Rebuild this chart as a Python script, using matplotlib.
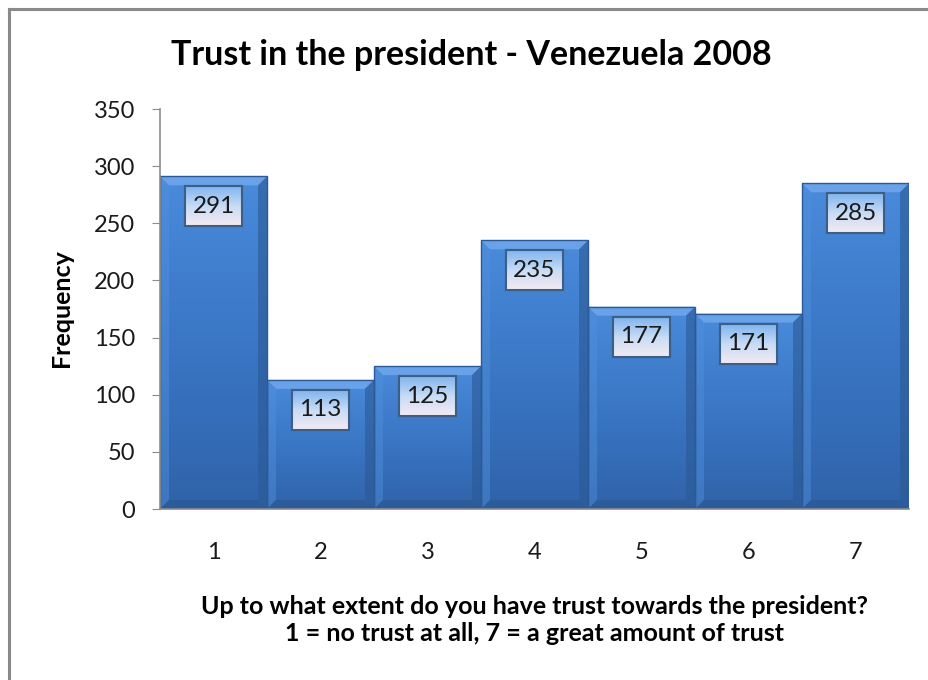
import numpy as np
import matplotlib
matplotlib.use("Agg")
import matplotlib.pyplot as plt
from matplotlib.patches import Polygon, Rectangle
from matplotlib.colors import LinearSegmentedColormap

# Survey response counts for each trust level
categories = ["1", "2", "3", "4", "5", "6", "7"]
frequency = [291, 113, 125, 235, 177, 171, 285]
y_ticks = [0, 50, 100, 150, 200, 250, 300, 350]

title = "Trust in the president - Venezuela 2008"
y_label = "Frequency"
x_label = ("Up to what extent do you have trust towards the president?\n"
           "1 = no trust at all, 7 = a great amount of trust")

FONT = ["Lato", "DejaVu Sans"]
W, H, DPI = 929, 680, 100

fig = plt.figure(figsize=(W / DPI, H / DPI), dpi=DPI, facecolor="white")
ax = fig.add_axes([160 / W, 1 - 509 / H, 749 / W, 400 / H])

x = np.arange(len(categories))
ax.set_xlim(-0.5, len(categories) - 0.5)
ax.set_ylim(0, 350)

# pixel -> data conversions for bevel and label box sizes
px_x = (len(categories)) / 749.0
px_y = 350 / 400.0

bar_cmap = LinearSegmentedColormap.from_list(
    "bar", ["#4a8bdb", "#3f7dcc", "#3670bd", "#3063a8"])
box_cmap = LinearSegmentedColormap.from_list(
    "box", ["#7fb4ef", "#c7dcf5", "#f5eaf2"])

grad = np.linspace(0, 1, 256).reshape(-1, 1)

for xi, v in zip(x, frequency):
    x0, x1 = xi - 0.5, xi + 0.5
    body = Rectangle((x0, 0), 1.0, v, facecolor="#3b78c6",
                     edgecolor="none", zorder=2)
    ax.add_patch(body)
    im = ax.imshow(grad, extent=(x0, x1, 0, v), origin="upper",
                   cmap=bar_cmap, aspect="auto", zorder=2.1)
    im.set_clip_path(body)

    bx = 9 * px_x
    by = 9 * px_y
    # bevel faces: top, right, left, bottom
    ax.add_patch(Polygon([(x0, v), (x1, v), (x1 - bx, v - by), (x0 + bx, v - by)],
                         closed=True, facecolor="#6da5ea", edgecolor="none",
                         alpha=0.9, zorder=2.2))
    ax.add_patch(Polygon([(x1, v), (x1, 0), (x1 - bx, by), (x1 - bx, v - by)],
                         closed=True, facecolor="#2b5994", edgecolor="none",
                         alpha=0.6, zorder=2.2))
    ax.add_patch(Polygon([(x0, v), (x0, 0), (x0 + bx, by), (x0 + bx, v - by)],
                         closed=True, facecolor="#5090dc", edgecolor="none",
                         alpha=0.45, zorder=2.2))
    ax.add_patch(Polygon([(x0, 0), (x1, 0), (x1 - bx, by), (x0 + bx, by)],
                         closed=True, facecolor="#2a5790", edgecolor="none",
                         alpha=0.6, zorder=2.2))
    ax.add_patch(Rectangle((x0, 0), 1.0, v, facecolor="none",
                           edgecolor="#2c5a96", linewidth=1.0, zorder=2.3))

    # value label box
    bw, bh = 57 * px_x, 40 * px_y
    top = v - 10 * px_y
    box = Rectangle((xi - bw / 2, top - bh), bw, bh, facecolor="white",
                    edgecolor="#3d5f86", linewidth=1.5, zorder=3)
    ax.add_patch(box)
    bim = ax.imshow(grad, extent=(xi - bw / 2, xi + bw / 2, top - bh, top),
                    origin="upper", cmap=box_cmap, aspect="auto", zorder=3.05)
    bim.set_clip_path(box)
    ax.add_patch(Rectangle((xi - bw / 2, top - bh), bw, bh, facecolor="none",
                           edgecolor="#3d5f86", linewidth=1.5, zorder=3.1))
    ax.text(xi, top - bh / 2, f"{v}", ha="center", va="center",
            fontsize=17.5, family=FONT, color="#1a1a1a", zorder=4)

ax.set_xticks(x)
ax.set_xticklabels(categories)
ax.set_yticks(y_ticks)
for spine in ["top", "right"]:
    ax.spines[spine].set_visible(False)
for spine in ["left", "bottom"]:
    ax.spines[spine].set_color("#8c8c8c")
    ax.spines[spine].set_linewidth(1.2)
ax.tick_params(axis="y", direction="out", length=6, color="#8c8c8c",
               labelsize=17, pad=12)
ax.tick_params(axis="x", length=0, labelsize=17, pad=24)
for lab in ax.get_xticklabels() + ax.get_yticklabels():
    lab.set_family(FONT)
    lab.set_color("#1a1a1a")

fig.text(471 / W, 1 - 55 / H, title, ha="center", va="center",
         fontsize=24.5, fontweight="bold", family=FONT, color="black")
fig.text(62 / W, 1 - 308 / H, y_label, ha="center", va="center",
         rotation=90, fontsize=18, fontweight="bold", family=FONT)
fig.text(535 / W, 1 - 620 / H, x_label, ha="center", va="center",
         fontsize=18, fontweight="bold", family=FONT, linespacing=1.25)

# outer chart-area frame (top and left edges)
fig.add_artist(plt.Line2D([9 / W, 9 / W], [0, 1 - 9 / H],
                          transform=fig.transFigure, color="#8a8a8a", lw=2.2))
fig.add_artist(plt.Line2D([9 / W, 1], [1 - 9 / H, 1 - 9 / H],
                          transform=fig.transFigure, color="#8a8a8a", lw=2.2))

fig.savefig("out.png", dpi=DPI, facecolor="white")
